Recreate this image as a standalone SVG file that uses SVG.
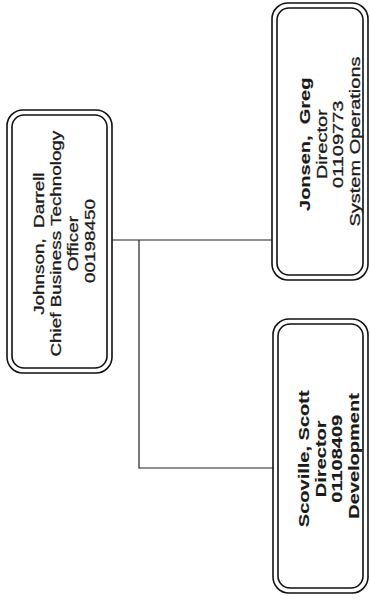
<svg xmlns="http://www.w3.org/2000/svg" width="370" height="600" viewBox="0 0 370 600">
<style>
.box{fill:none;stroke:#111;stroke-width:1.6}
.conn{fill:none;stroke:#222;stroke-width:1.2}
.t{font-family:"Liberation Sans",Arial,sans-serif;font-size:14.5px;fill:#1a1a1a;stroke:#1a1a1a;stroke-width:0.3;text-anchor:middle}
.b{font-weight:bold;stroke-width:0.15}
</style>
<rect width="370" height="600" fill="#fff"/>
<g id="connectors">
<path class="conn" d="M112,240 H272"/>
<path class="conn" d="M139,240 V468 H273"/>
</g>
<g id="root">
<rect class="box" x="7" y="110" width="105" height="263" rx="16"/>
<rect class="box" x="12" y="115" width="95" height="253" rx="12"/>
<text class="t" transform="translate(0,241) rotate(-90) scale(1.3,1)">
<tspan x="0" y="44">Johnson,&#160; Darrell</tspan>
<tspan x="0" y="61">Chief Business Technology</tspan>
<tspan x="0" y="78">Officer</tspan>
<tspan x="0" y="95">00198450</tspan>
</text>
</g>
<g id="jonsen">
<rect class="box" x="272" y="3" width="96" height="277" rx="16"/>
<rect class="box" x="277" y="8" width="86" height="267" rx="12"/>
<text class="t" transform="translate(0,141.5) rotate(-90) scale(1.38,1)">
<tspan class="b" x="0" y="310">Jonsen,&#160; Greg</tspan>
<tspan x="0" y="327">Director</tspan>
<tspan x="0" y="343">01109773</tspan>
<tspan x="0" y="360">System Operations</tspan>
</text>
</g>
<g id="scoville">
<rect class="box" x="273" y="319" width="95" height="274" rx="16"/>
<rect class="box" x="278" y="324" width="85" height="264" rx="12"/>
<text class="t b" transform="translate(0,456) rotate(-90) scale(1.38,1)">
<tspan x="0" y="309.5">Scoville, Scott</tspan>
<tspan x="0" y="326">Director</tspan>
<tspan x="0" y="342.5">01108409</tspan>
<tspan x="0" y="359">Development</tspan>
</text>
</g>
</svg>
